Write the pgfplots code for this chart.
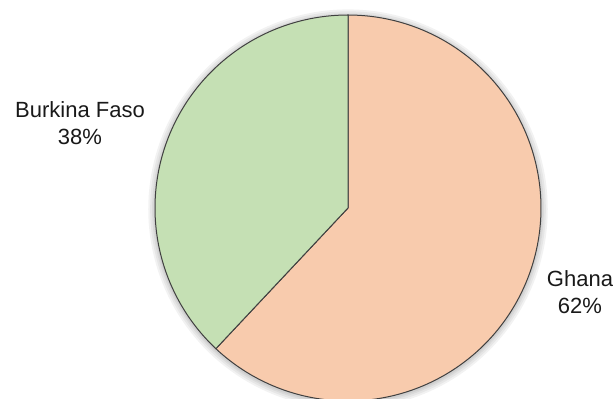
\documentclass[border=0pt]{standalone}
\usepackage{pgfplots}
\usepackage{pgfplotstable}
\pgfplotsset{compat=1.18}
\usepackage{fontspec}
\setmainfont{Liberation Sans}
\definecolor{ghanac}{HTML}{F8CBAD}
\definecolor{burkc}{HTML}{C5E0B4}
\definecolor{edgec}{HTML}{404040}
\pgfplotstableread{
country share
Ghana 62
Burkina 38
}\sharetable
\pgfplotstablegetelem{0}{share}\of\sharetable
\let\ghana\pgfplotsretval
\pgfplotstablegetelem{1}{share}\of\sharetable
\let\burkina\pgfplotsretval
\begin{document}
\begin{tikzpicture}
\useasboundingbox (0,0) rectangle (614pt,399pt);
\begin{axis}[
  at={(155pt,-2pt)}, anchor=south west,
  width=386pt, height=386pt, scale only axis,
  xmin=-1, xmax=1, ymin=-1, ymax=1,
  hide axis, clip=false]
% soft shadow
\foreach \r in {1.035,1.025,1.015,1.007}{
  \addplot[draw=none, fill=black, fill opacity=0.05, domain=0:360, samples=181]
    ({\r*cos(x)},{\r*sin(x)-0.006}) -- cycle;
}
\addplot[draw=edgec, line width=1pt, fill=ghanac, domain={90-\ghana*3.6}:90, samples=200]
  ({cos(x)},{sin(x)}) -- (axis cs:0,0) -- cycle;
\addplot[draw=edgec, line width=1pt, fill=burkc, domain=90:{90+\burkina*3.6}, samples=150]
  ({cos(x)},{sin(x)}) -- (axis cs:0,0) -- cycle;
\end{axis}
\begin{scope}[every node/.style={anchor=base, inner sep=0pt, font=\fontsize{22}{27}\selectfont, text=black!90}]
\node at (80pt,281pt) {Burkina Faso};
\node at (80pt,254pt) {38\%};
\node at (580pt,112pt) {Ghana};
\node at (580pt,85pt) {62\%};
\end{scope}
\end{tikzpicture}
\end{document}
